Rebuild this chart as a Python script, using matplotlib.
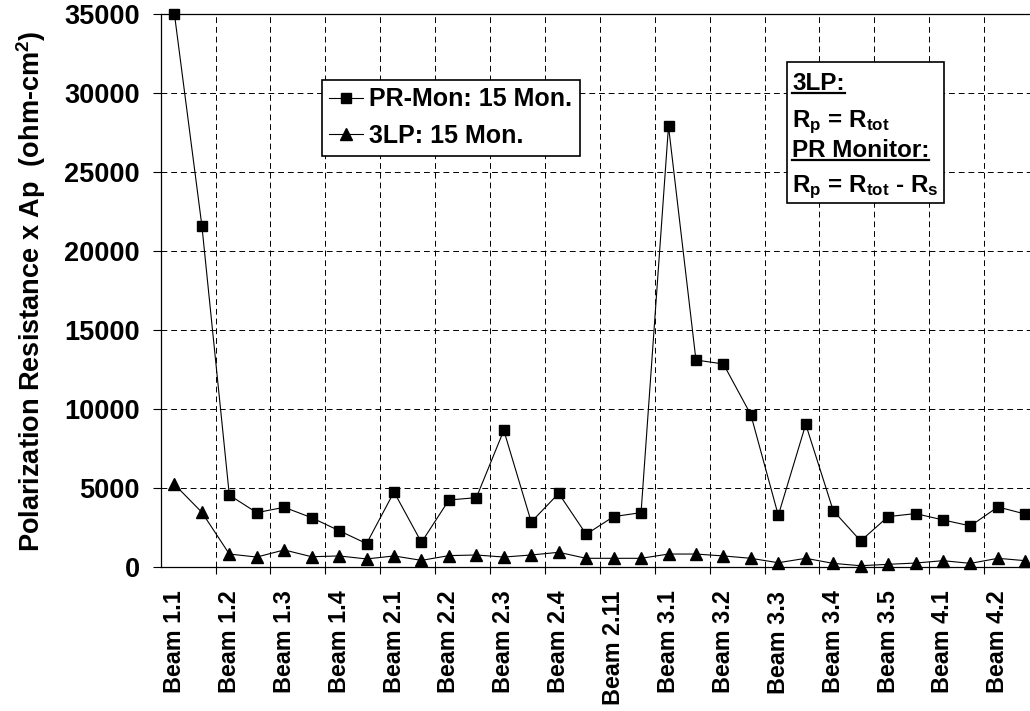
import matplotlib
matplotlib.use('Agg')
import matplotlib.pyplot as plt
from matplotlib.patches import Rectangle
from matplotlib.lines import Line2D

# font setup - bold arial look
plt.rcParams['font.family'] = 'Liberation Sans'
plt.rcParams['font.weight'] = 'bold'
plt.rcParams['font.size'] = 17.5
plt.rcParams['mathtext.fontset'] = 'custom'
plt.rcParams['mathtext.rm'] = 'Liberation Sans:bold'
plt.rcParams['mathtext.bf'] = 'Liberation Sans:bold'
plt.rcParams['mathtext.default'] = 'bf'

# data (two readings per beam)
beam_labels = ['Beam 1.1', 'Beam 1.2', 'Beam 1.3', 'Beam 1.4',
               'Beam 2.1', 'Beam 2.2', 'Beam 2.3', 'Beam 2.4',
               'Beam 2.11', 'Beam 3.1', 'Beam 3.2', 'Beam 3.3',
               'Beam 3.4', 'Beam 3.5', 'Beam 4.1', 'Beam 4.2']
pr_mon = [35000, 21600, 4550, 3440, 3780, 3120, 2300, 1480,
          4750, 1560, 4240, 4390, 8650, 2850, 4660, 2070,
          3190, 3440, 27900, 13100, 12850, 9640, 3270, 9030,
          3570, 1650, 3190, 3380, 2980, 2600, 3800, 3350]
lp3 = [5230, 3460, 820, 630, 1080, 650, 700, 510,
       700, 420, 720, 760, 630, 760, 930, 550,
       550, 550, 820, 820, 700, 550, 270, 550,
       230, 80, 170, 250, 400, 230, 550, 400]
y_ticks = [0, 5000, 10000, 15000, 20000, 25000, 30000, 35000]

W, H = 1030, 711
fig = plt.figure(figsize=(W / 100, H / 100), dpi=100)
ax = fig.add_axes([160.7 / W, (H - 567) / H, (W - 160.7) / W, (567 - 14) / H])

x = list(range(len(pr_mon)))
ax.plot(x, pr_mon, color='black', lw=0.8, marker='s', ms=7.6,
        label='PR-Mon: 15 Mon.', zorder=3, clip_on=False)
ax.plot(x, lp3, color='black', lw=0.8, marker='^', ms=8.3,
        label='3LP: 15 Mon.', zorder=3, clip_on=False)

ax.set_xlim(-0.5, 31.17)
ax.set_ylim(0, 35000)
ax.set_yticks(y_ticks)
ax.set_yticklabels([str(v) for v in y_ticks], fontsize=19.5)
ax.set_xticks(x[::2])
ax.set_xticklabels(beam_labels, rotation=90, fontsize=16.8)
ax.set_xticks([i - 0.5 for i in range(2, 32, 2)], minor=True)

ax.tick_params(axis='x', which='major', length=0, pad=17)
ax.tick_params(axis='x', which='minor', length=5, width=0.8, direction='out')
ax.tick_params(axis='y', length=6, width=0.8, pad=9)

ax.grid(True, axis='y', which='major', color='black', lw=0.7, ls=(0, (6, 4)))
ax.grid(True, axis='x', which='minor', color='black', lw=0.7, ls=(0, (6, 4)))
ax.set_axisbelow(True)

for s in ['left', 'bottom', 'top']:
    ax.spines[s].set_linewidth(0.9)
ax.spines['right'].set_visible(False)

fig.text(31 / W, (H - 291) / H, 'Polarization Resistance x Ap  (ohm-cm$^{2}$)',
         rotation=90, ha='center', va='center', fontsize=19.5)

leg = ax.legend(loc='upper left', bbox_to_anchor=((322 - 160.7) / 869.3, (567 - 80) / 553),
                borderaxespad=0, fancybox=False, edgecolor='black', framealpha=1,
                handlelength=1.35, handletextpad=0.25, labelspacing=0.5,
                borderpad=0.3, numpoints=1, fontsize=18)
leg.get_frame().set_linewidth(1.2)

# annotation box on the right
def ax_x(px):
    return (px - 160.7) / 869.3

def ax_y(py):
    return (567 - py) / 553

box = Rectangle((ax_x(787), ax_y(203)), ax_x(944) - ax_x(787), ax_y(62) - ax_y(203),
                transform=ax.transAxes, facecolor='white', edgecolor='black',
                lw=1.2, zorder=5)
ax.add_patch(box)
lines = [('3LP:', 90.5, True),
         (r'R$_{\mathbf{p}}$ = R$_{\mathbf{tot}}$', 127, False),
         ('PR Monitor:', 157, True),
         (r'R$_{\mathbf{p}}$ = R$_{\mathbf{tot}}$ - R$_{\mathbf{s}}$', 192, False)]
txts = []
for s, yb, ul in lines:
    t = ax.text(ax_x(792), ax_y(yb), s, transform=ax.transAxes, ha='left',
                va='baseline', zorder=6)
    txts.append((t, yb, ul))

fig.canvas.draw()
r = fig.canvas.get_renderer()
for t, yb, ul in txts:
    if ul:
        bb = t.get_window_extent(r)
        yl = H - (yb + 2.5)
        fig.add_artist(Line2D([bb.x0 / W, bb.x1 / W], [yl / H, yl / H],
                              color='black', lw=1.6, zorder=7))

fig.savefig('out.png', dpi=100)
